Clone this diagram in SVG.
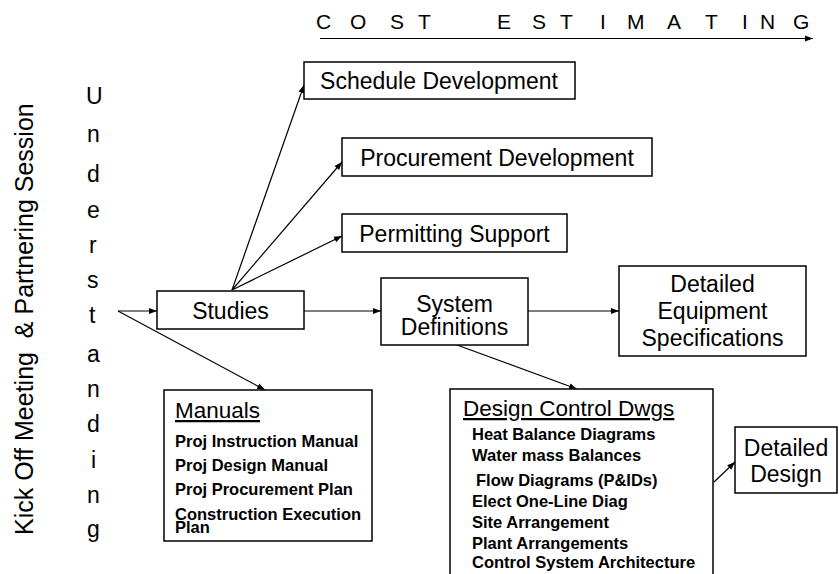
<svg xmlns="http://www.w3.org/2000/svg" width="839" height="574" viewBox="0 0 839 574">
<defs>
<marker id="ah" markerUnits="userSpaceOnUse" markerWidth="9" markerHeight="8" refX="8" refY="4" orient="auto">
<path d="M0,1 L8,4 L0,7 Z" fill="#000"/>
</marker>
<style>
.box{fill:#fff;stroke:#000;stroke-width:1.5}
.t{font-family:"Liberation Sans",Arial,sans-serif;fill:#000}
.lbl{font-size:23px;text-anchor:middle}
.hd{font-size:22.5px;text-decoration:underline}
.it{font-size:16.5px;font-weight:bold}
.c{fill:none;stroke:#000;stroke-width:1.2;marker-end:url(#ah)}
</style>
</defs>
<rect width="839" height="574" fill="#fff"/>

<g id="cost-estimating">
<text class="t" font-size="21" y="29" x="316 333 350 370 390 404 418 457 497 514 532 546 560 580 600 613 627 647 667 686 705 723 742 751 760 776 793">C O S T E S T I M A T I N G</text>
</g>

<g id="kickoff">
<text class="t" font-size="25" transform="translate(33,535) rotate(-90)" xml:space="preserve">Kick Off Meeting  &amp; Partnering Session</text>
</g>

<g id="understanding" class="t" font-size="23">
<text class="t" x="86" y="104">U</text>
<text class="t" x="87" y="142">n</text>
<text class="t" x="87" y="182">d</text>
<text class="t" x="87" y="218">e</text>
<text class="t" x="89" y="253">r</text>
<text class="t" x="87" y="288">s</text>
<text class="t" x="89" y="323">t</text>
<text class="t" x="87" y="362">a</text>
<text class="t" x="87" y="397">n</text>
<text class="t" x="87" y="432">d</text>
<text class="t" x="91" y="468">i</text>
<text class="t" x="87" y="503">n</text>
<text class="t" x="87" y="537">g</text>
</g>

<g id="connectors">
<path class="c" d="M320,38.5 H813"/>
<path class="c" d="M118,311 H157"/>
<path class="c" d="M118,311 L265,390"/>
<path class="c" d="M232,290 L304,85"/>
<path class="c" d="M232,290 L342,162"/>
<path class="c" d="M232,290 L342,236"/>
<path class="c" d="M304,311 H381"/>
<path class="c" d="M528,311 H619"/>
<path class="c" d="M457,345 L577,389"/>
<path class="c" d="M714,482 L735,462"/>
</g>

<g id="schedule">
<rect class="box" x="304" y="62" width="271" height="37"/>
<text class="t lbl" x="439" y="89">Schedule Development</text>
</g>

<g id="procurement">
<rect class="box" x="342" y="138" width="310" height="38"/>
<text class="t lbl" x="497" y="166">Procurement Development</text>
</g>

<g id="permitting">
<rect class="box" x="342" y="214" width="225" height="38"/>
<text class="t lbl" x="454.5" y="242">Permitting Support</text>
</g>

<g id="studies">
<rect class="box" x="157" y="291" width="147" height="38"/>
<text class="t lbl" x="230.5" y="319">Studies</text>
</g>

<g id="system-definitions">
<rect class="box" x="381" y="278" width="147" height="67"/>
<text class="t lbl" x="454.5" y="312">System</text>
<text class="t lbl" x="454.5" y="335">Definitions</text>
</g>

<g id="detailed-equipment">
<rect class="box" x="619" y="266" width="187" height="90"/>
<text class="t lbl" x="712.5" y="292">Detailed</text>
<text class="t lbl" x="712.5" y="319">Equipment</text>
<text class="t lbl" x="712.5" y="346">Specifications</text>
</g>

<g id="manuals">
<rect class="box" x="164" y="390" width="208" height="151"/>
<text class="t hd" x="175" y="418">Manuals</text>
<text class="t it" x="175" y="447">Proj Instruction Manual</text>
<text class="t it" x="175" y="471">Proj Design Manual</text>
<text class="t it" x="175" y="495">Proj Procurement Plan</text>
<text class="t it" x="175" y="520">Construction Execution</text>
<text class="t it" x="175" y="533">Plan</text>
</g>

<g id="design-control">
<rect class="box" x="450" y="389" width="263" height="200"/>
<text class="t hd" x="463" y="416">Design Control Dwgs</text>
<text class="t it" x="472" y="440">Heat Balance Diagrams</text>
<text class="t it" x="472" y="461">Water mass Balances</text>
<text class="t it" x="476" y="486">Flow Diagrams (P&amp;IDs)</text>
<text class="t it" x="472" y="507">Elect One-Line Diag</text>
<text class="t it" x="472" y="528">Site Arrangement</text>
<text class="t it" x="472" y="549">Plant Arrangements</text>
<text class="t it" x="472" y="568">Control System Architecture</text>
</g>

<g id="detailed-design">
<rect class="box" x="735" y="427" width="102" height="66"/>
<text class="t lbl" x="786" y="456">Detailed</text>
<text class="t lbl" x="786" y="482">Design</text>
</g>
</svg>
